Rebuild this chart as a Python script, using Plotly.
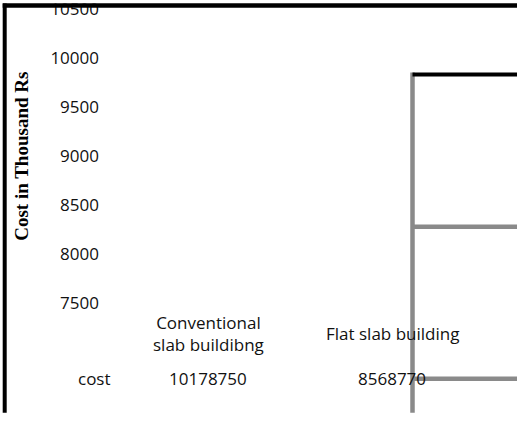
import plotly.graph_objects as go

# ---- data ----
categories = ["Conventional<br>slab buildibng", "Flat slab building"]
cost_values = [10178750, 8568770]
row_label = "cost"
y_ticks = [7500, 8000, 8500, 9000, 9500, 10000, 10500]
y_title = "Cost in Thousand Rs"

# ---- geometry (pixels) ----
WIDTH, HEIGHT = 517, 424
L, R, T, B = 116, 484, 8.5, 303
PW, PH = R - L, B - T

def px(x):
    return (x - L) / PW

def py(y):
    return (B - y) / PH

FONT = "Open Sans"
TXT = "#111111"
GRAY = "#8a8a8a"

fig = go.Figure()
# invisible trace binding category axis and value axis
fig.add_trace(go.Scatter(
    x=categories, y=[v / 1000 for v in cost_values],
    mode="markers", marker=dict(opacity=0), hoverinfo="skip", showlegend=False))

fig.update_layout(
    width=WIDTH, height=HEIGHT,
    margin=dict(l=L, r=WIDTH - R, t=T, b=HEIGHT - B, pad=0, autoexpand=False),
    paper_bgcolor="white", plot_bgcolor="white",
    font=dict(family=FONT, size=17, color=TXT),
    showlegend=False,
    xaxis=dict(type="category", range=[-0.5, 1.5], showticklabels=False,
               showgrid=False, zeroline=False, showline=False, ticks=""),
    yaxis=dict(range=[7500, 10500], tickvals=y_ticks, ticktext=[str(v) for v in y_ticks],
               showgrid=False, zeroline=False, showline=False, ticks="",
               ticklabeloverflow="allow",
               ticklabelstandoff=16, tickfont=dict(family=FONT, size=17, color=TXT)),
)

ann = []
for c in categories:
    ann.append(dict(x=c, xref="x", y=py(333.5), yref="paper", text=c, showarrow=False,
                    xanchor="center", yanchor="middle",
                    font=dict(family=FONT, size=17, color=TXT)))
for c, v in zip(categories, cost_values):
    ann.append(dict(x=c, xref="x", y=py(379), yref="paper", text=str(v), showarrow=False,
                    xanchor="center", yanchor="middle",
                    font=dict(family=FONT, size=17, color=TXT)))
ann.append(dict(x=px(94), xref="paper", y=py(379), yref="paper", text=row_label,
                showarrow=False, xanchor="center", yanchor="middle",
                font=dict(family=FONT, size=17, color=TXT)))
ann.append(dict(x=px(22), xref="paper", y=py(155.5), yref="paper", text="<b>" + y_title + "</b>",
                textangle=-90, showarrow=False, xanchor="center", yanchor="middle",
                font=dict(family="Liberation Serif", size=19, color="#000000")))
fig.update_layout(annotations=ann)

shapes = [
    # white strip clipping top
    dict(type="rect", xref="paper", yref="paper", x0=px(0), x1=px(WIDTH), y0=py(0), y1=py(3),
         fillcolor="white", line=dict(width=0), layer="above"),
    # outer black frame
    dict(type="line", xref="paper", yref="paper", x0=px(2.7), x1=px(WIDTH), y0=py(5), y1=py(5),
         line=dict(color="black", width=4.5), layer="above"),
    dict(type="line", xref="paper", yref="paper", x0=px(4.7), x1=px(4.7), y0=py(3), y1=py(413),
         line=dict(color="black", width=4), layer="above"),
    # gray lines on right
    dict(type="line", xref="paper", yref="paper", x0=px(412.5), x1=px(412.5), y0=py(72), y1=py(413),
         line=dict(color=GRAY, width=4.5), layer="above"),
    dict(type="line", xref="paper", yref="paper", x0=px(412.5), x1=px(WIDTH), y0=py(74), y1=py(74),
         line=dict(color="black", width=4), layer="above"),
    dict(type="line", xref="paper", yref="paper", x0=px(412.5), x1=px(WIDTH), y0=py(226.5), y1=py(226.5),
         line=dict(color=GRAY, width=4.5), layer="above"),
    dict(type="line", xref="paper", yref="paper", x0=px(412.5), x1=px(WIDTH), y0=py(379), y1=py(379),
         line=dict(color=GRAY, width=4.5), layer="above"),
]
fig.update_layout(shapes=shapes)

fig.write_html("out.html")
